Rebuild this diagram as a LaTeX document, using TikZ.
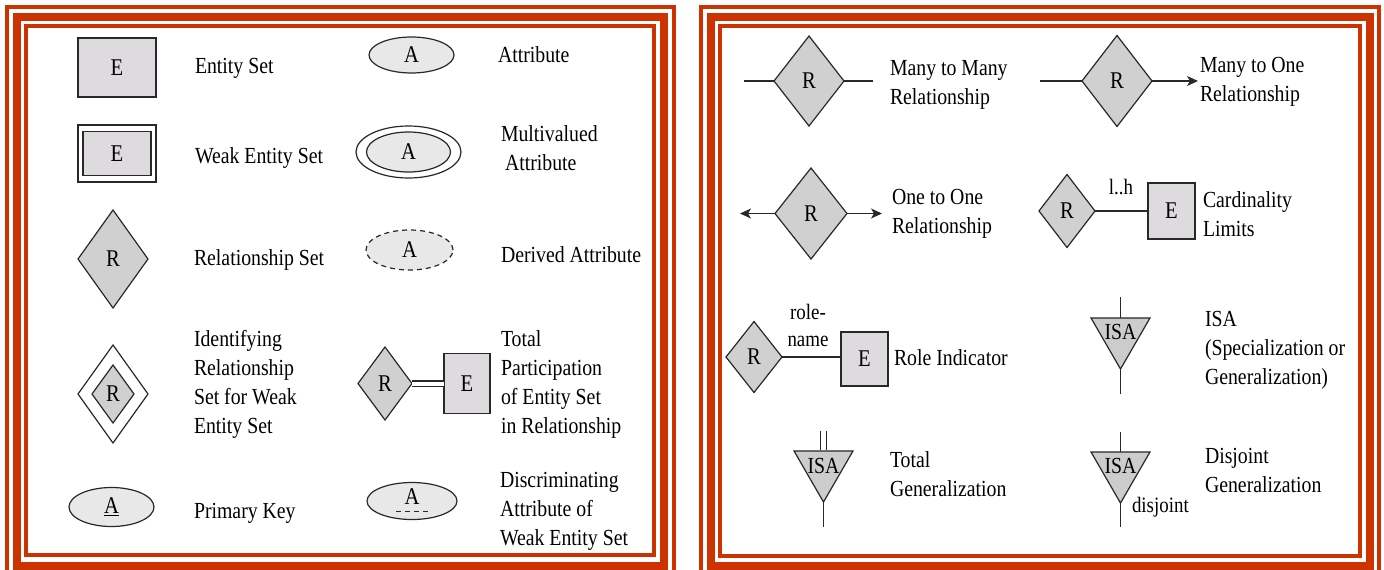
\documentclass[tikz,border=0pt]{standalone}
\usepackage{fontspec}
\setmainfont{Liberation Serif}[FakeStretch=0.86]
\usetikzlibrary{shapes.geometric,arrows.meta,calc}

\definecolor{framered}{RGB}{204,51,0}
\definecolor{entfill}{RGB}{221,219,222}
\definecolor{relfill}{RGB}{208,208,208}
\definecolor{attfill}{RGB}{232,232,232}
\definecolor{isafill}{RGB}{204,204,204}
\definecolor{ink}{RGB}{40,40,40}

\begin{document}
\begin{tikzpicture}[x=1pt,y=-1pt,
  every node/.style={inner sep=0pt,outer sep=0pt,text=black},
  shapeline/.style={draw=ink,line width=1.2pt},
  symfont/.style={font=\fontsize{24}{26}\selectfont},
  entity/.style={shapeline,rectangle,fill=entfill,symfont},
  rel/.style={shapeline,diamond,fill=relfill,symfont},
  attr/.style={shapeline,ellipse,fill=attfill,symfont},
  isatri/.style={shapeline,regular polygon,regular polygon sides=3,
    shape border rotate=180,minimum size=68.1pt,fill=isafill},
  isatext/.style={font=\fontsize{23}{24}\selectfont},
  lab/.style={anchor=west,align=left,font=\fontsize{23}{29}\selectfont},
  smalllab/.style={font=\fontsize{22}{26}\selectfont},
  conn/.style={draw=ink,line width=1.2pt},
  tip/.style={-{Stealth[length=11pt,width=10pt,inset=3pt]}},
  frameline/.style={draw=framered}
]
\useasboundingbox (0,0) rectangle (1384,570);

% ---------- decorative frames ----------
\begin{scope}
\clip (0,0) rectangle (1384,570);
\draw[frameline,line width=4pt] (7,7) rectangle (674,576);
\draw[frameline,line width=8pt] (17,17) rectangle (664,566);
\draw[frameline,line width=4pt] (25.5,26) rectangle (654,555);
\draw[frameline,line width=4pt] (701,7) rectangle (1379,576);
\draw[frameline,line width=8pt] (711,17) rectangle (1370,566);
\draw[frameline,line width=4pt] (720,26) rectangle (1360,556);
\end{scope}

% ---------- left panel, first column ----------
\node[entity,minimum width=78pt,minimum height=59pt] (ent) at (117,67.5) {E};
\node[lab] (entlab) at (195,68) {Entity Set};

\node[shapeline,rectangle,fill=white,minimum width=78pt,minimum height=57pt] (weakout) at (117,153.5) {};
\node[entity,minimum width=68pt,minimum height=44pt] (weak) at (117,153.5) {E};
\node[lab] (weaklab) at (195,158) {Weak Entity Set};

\node[rel,minimum width=70pt,minimum height=98pt] (relset) at (113,259) {R};
\node[lab] (rellab) at (194,260) {Relationship Set};

\node[shapeline,diamond,fill=white,minimum width=70pt,minimum height=98pt] (identout) at (113,394) {};
\node[rel,minimum width=42pt,minimum height=58pt] (ident) at (113,394) {R};
\node[lab] (identlab) at (194,384) {Identifying\\Relationship\\Set for Weak\\Entity Set};

\node[attr,minimum width=85pt,minimum height=39pt] (pkey) at (111.5,507) {\underline{A}};
\node[lab] (pkeylab) at (194,513) {Primary Key};

% ---------- left panel, second column ----------
\node[attr,minimum width=85pt,minimum height=36pt] (attrib) at (411.5,55) {A};
\node[lab] (attriblab) at (498,55) {Attribute};

\node[shapeline,ellipse,fill=white,minimum width=105pt,minimum height=52pt] (multiout) at (408.5,152) {};
\node[attr,minimum width=84pt,minimum height=40pt] (multi) at (408.5,152) {A};
\node[lab] (multilab) at (501,148.5) {Multivalued\\\hspace*{4pt}Attribute};

\node[attr,dashed,dash pattern=on 5pt off 4pt,minimum width=87pt,minimum height=40pt] (derived) at (409.5,250) {A};
\node[lab] (derivedlab) at (501,255) {Derived Attribute};

\node[rel,minimum width=54pt,minimum height=73pt] (tprel) at (385,383.5) {R};
\node[entity,minimum width=46pt,minimum height=60pt] (tpent) at (467,383.5) {E};
\draw[conn,double=white,double distance=4pt,shorten >=0.5pt] (tprel.east) -- (tpent.west);
\node[lab] (tplab) at (501,384.5) {Total\\Participation\\of Entity Set\\in Relationship};

\node[attr,minimum width=90pt,minimum height=37pt,text depth=8pt] (discr) at (412,501) {A};
\draw[conn,line width=1pt,dash pattern=on 5pt off 4pt] ($(discr.center)+(-16,10)$) -- ($(discr.center)+(16,10)$);
\node[lab] (discrlab) at (500,511) {Discriminating\\Attribute of\\Weak Entity Set};

% ---------- right panel, first column ----------
\node[rel,minimum width=70pt,minimum height=90pt] (mm) at (809,81) {R};
\coordinate (mmL) at (744,81);
\coordinate (mmR) at (873,81);
\draw[conn] (mmL) -- (mm.west);
\draw[conn] (mm.east) -- (mmR);
\node[lab] (mmlab) at (890,85) {Many to Many\\Relationship};

\node[rel,minimum width=72pt,minimum height=91pt] (oo) at (811,213.5) {R};
\coordinate (ooL) at (740,213.5);
\coordinate (ooR) at (882,213.5);
\draw[conn,tip] (oo.west) -- (ooL);
\draw[conn,tip] (oo.east) -- (ooR);
\node[lab] (oolab) at (892,214) {One to One\\Relationship};

\node[rel,minimum width=56pt,minimum height=71pt] (role) at (754,357) {R};
\node[entity,minimum width=47pt,minimum height=54pt] (roleent) at (864.5,359) {E};
\draw[conn] (role.east) -- (roleent.west |- role.east);
\node[smalllab,align=center] (rolename) at (808,325) {role-\\[1pt]name};
\node[lab] (rolelab) at (894,358) {Role Indicator};

\node[isatri] (tgen) at (823.5,468) {};
\node[isatext] (tgentext) at ($(tgen.side 2)+(0,15)$) {ISA};
\coordinate (tgenTop) at (823.5,431);
\coordinate (tgenBot) at (823.5,527);
\draw[conn,double=white,double distance=5.5pt,shorten >=0.6pt] (tgenTop) -- (tgen.side 2);
\draw[conn] (tgen.corner 1) -- (tgenBot);
\node[lab] (tgenlab) at (890,474.5) {Total\\Generalization};

% ---------- right panel, second column ----------
\node[rel,minimum width=70pt,minimum height=91pt] (mo) at (1117,81) {R};
\coordinate (moL) at (1040,81);
\coordinate (moR) at (1198,81);
\draw[conn] (moL) -- (mo.west);
\draw[conn,tip] (mo.east) -- (moR);
\node[lab] (molab) at (1200,82) {Many to One\\Relationship};

\node[rel,minimum width=56pt,minimum height=73pt] (card) at (1067,211) {R};
\node[entity,minimum width=47pt,minimum height=56pt] (cardent) at (1171.5,211) {E};
\draw[conn] (card.east) -- (cardent.west);
\node[smalllab] (cardlh) at (1121,187) {l..h};
\node[lab] (cardlab) at (1203,214) {Cardinality\\Limits};

\node[isatri] (isa) at (1120.5,335) {};
\node[isatext] (isatext) at ($(isa.side 2)+(0,14)$) {ISA};
\coordinate (isaTop) at (1120.5,297);
\coordinate (isaBot) at (1120.5,394);
\draw[conn] (isaTop) -- (isa.side 2);
\draw[conn] (isa.corner 1) -- (isaBot);
\node[lab] (isalab) at (1205,350.5) {ISA\\(Specialization or\\Generalization)};

\node[isatri] (disj) at (1120.5,469) {};
\node[isatext] (disjtext) at ($(disj.side 2)+(0,14)$) {ISA};
\coordinate (disjTop) at (1120.5,432);
\coordinate (disjBot) at (1120.5,527);
\draw[conn] (disjTop) -- (disj.side 2);
\draw[conn] (disj.corner 1) -- (disjBot);
\node[smalllab,anchor=west] (disjword) at (1132,507) {disjoint};
\node[lab] (disjlab) at (1205,470) {Disjoint\\Generalization};
\end{tikzpicture}
\end{document}
